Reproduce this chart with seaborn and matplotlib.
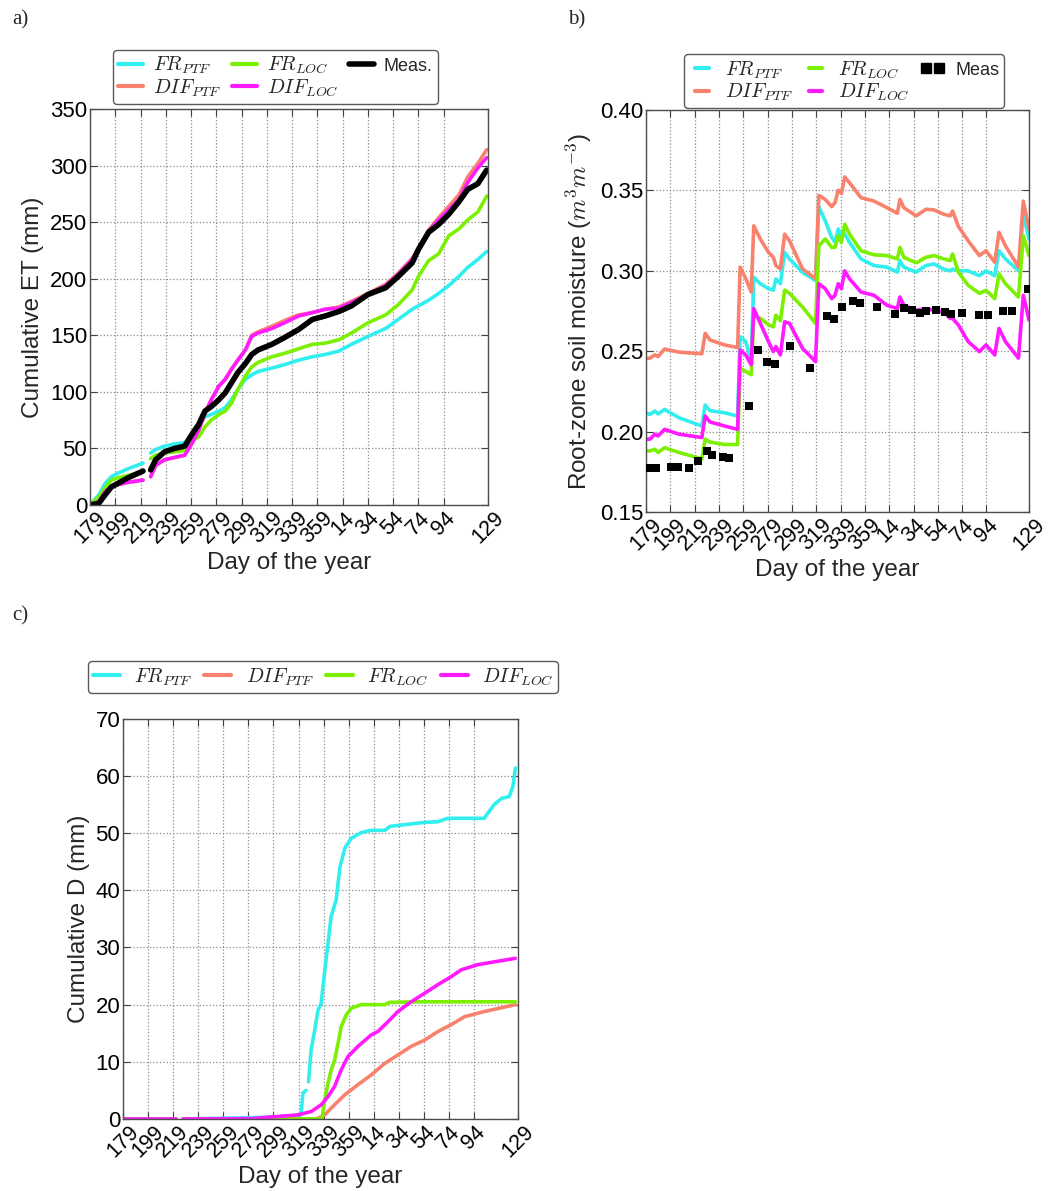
import numpy as np
import pandas as pd
import matplotlib
matplotlib.use('Agg')
import matplotlib.pyplot as plt
import seaborn as sns
from matplotlib.lines import Line2D

sns.set_theme(style='white')
plt.rcParams['font.family'] = ['Liberation Sans', 'DejaVu Sans']
plt.rcParams['mathtext.fontset'] = 'cm'

NAN = np.nan

# ---------------- common x axis ----------------
tick_pos = [179, 199, 219, 239, 259, 279, 299, 319, 339, 359, 379, 399, 419, 439, 459, 494]
tick_lab = ['179', '199', '219', '239', '259', '279', '299', '319', '339', '359',
            '14', '34', '54', '74', '94', '129']

names = ['FR_PTF', 'DIF_PTF', 'FR_LOC', 'DIF_LOC']
labels = [r'$FR_{PTF}$', r'$DIF_{PTF}$', r'$FR_{LOC}$', r'$DIF_{LOC}$']
colors = {'FR_PTF': '#33eeee', 'DIF_PTF': '#f9826e', 'FR_LOC': '#7cf000', 'DIF_LOC': '#ff1aff'}

# ---------------- panel a: cumulative ET ----------------
a_days = [179, 186, 191, 196, 201, 209, 221, 224, 227, 231, 238, 246, 254, 260, 265, 270,
          275, 281, 286, 291, 296, 302, 307, 312, 323, 333, 344, 355, 365, 376, 386,
          399, 413, 423, 434, 439, 447, 455, 463, 471, 478, 486, 493]
a_meas = [0, 1.5, 9, 16, 19, 24, 30, NAN, 31, 40, 47, 50, 52, 63, 71, 83, 87, 93, 99, 108,
          117, 125, 133, 137, 142, 148, 155, 164, 167, 171, 176, 186, 192, 202, 214, 226,
          241, 248, 257, 268, 279, 284, 296]
a_dif_loc = [0, 3, 12, 16, 18, 20, 22, NAN, 25, 35, 40, 42, 44, 55, 66, 81, 93, 105, 111,
             120, 128, 137, 149, 152, 156, 161, 167, 170, 173, 174, 179, 186, 194, 204,
             217, 226, 242, 252, 261, 270, 285, 298, 307]
a_dif_ptf = [0, 3, 12, 16, 18, 20, 22, NAN, 25, 35, 40, 42, 44, 55, 66, 81, 93, 105, 111,
             120, 128, 137, 150, 153, 158, 163, 168, 170, 173, 175, 180, 187, 195, 205,
             218, 227, 243, 254, 264, 274, 290, 302, 314]
a_fr_loc = [0, 7, 15, 22, 24, 26, 29.5, NAN, 41, 44, 46, 47, 48, 57, 60, 69, 75, 80, 83,
            90, 102, 114, 122, 126, 131, 134, 138, 142, 143, 146, 152, 161, 168, 177, 190,
            202, 216, 222, 238, 244, 252, 259, 273]
a_fr_ptf = [0, 9, 19, 25, 28, 32, 37, NAN, 46, 49, 52, 54, 55, 63, 71, 78, 80, 83, 86, 93,
            102, 111, 115, 118, 121, 124, 128, 131, 133, 136, 142, 149, 156, 164, 173, 176,
            181, 187, 194, 202, 210, 217, 224]

# ---------------- panel b: root-zone soil moisture ----------------
b_days = [179, 182.2, 186.2, 188.9, 194.2, 206.2, 224.9, 227.6, 231.6, 243.6, 254.3, 256.4,
          261.0, 265.5, 267.6, 273.0, 279.7, 283.7, 285.8, 289.5, 293.0, 297.0, 307.7, 318.4,
          321.1, 326.4, 331.7, 334.4, 337.1, 339.7, 342.4, 346.4, 355.8, 366.4, 377.1, 385.7,
          387.8, 391.0, 401.2, 409.2, 415.8, 423.9, 429.2, 431.1, 435.9, 443.9, 453.2, 458.6,
          465.8, 469.3, 474.6, 485.3, 489.3, 494]
b_dif_ptf = [0.2453, 0.2457, 0.2477, 0.2467, 0.2514, 0.2494, 0.2484, 0.2611, 0.2570, 0.2539,
             0.2523, 0.3023, 0.2951, 0.2868, 0.3280, 0.3198, 0.3115, 0.3084, 0.3033, 0.3012,
             0.3228, 0.3187, 0.3012, 0.2951, 0.3469, 0.3444, 0.3399, 0.3424, 0.3502, 0.3481,
             0.3584, 0.3547, 0.3455, 0.3434, 0.3393, 0.3358, 0.3444, 0.3393, 0.3342, 0.3383,
             0.3379, 0.3352, 0.3342, 0.3372, 0.3276, 0.3187, 0.3095, 0.3125, 0.3053, 0.3239,
             0.3156, 0.3023, 0.3434, 0.3259]
b_fr_ptf = [0.2117, 0.2107, 0.2128, 0.2110, 0.2138, 0.2086, 0.2035, 0.2165, 0.2130, 0.2117,
            0.2097, 0.2590, 0.2560, 0.2436, 0.2960, 0.2920, 0.2889, 0.2880, 0.2950, 0.2920,
            0.3115, 0.3074, 0.2990, 0.2940, 0.3400, 0.3310, 0.3208, 0.3177, 0.3260, 0.3218,
            0.3230, 0.3177, 0.3074, 0.3033, 0.3023, 0.2992, 0.3064, 0.3023, 0.2992, 0.3033,
            0.3043, 0.3010, 0.3000, 0.3010, 0.3000, 0.3000, 0.2970, 0.3000, 0.2970, 0.3125,
            0.3074, 0.3000, 0.3350, 0.3198]
b_fr_loc = [0.1880, 0.1880, 0.1890, 0.1870, 0.1900, 0.1870, 0.1830, 0.1953, 0.1935, 0.1920,
            0.1920, 0.2395, 0.2374, 0.2354, 0.2724, 0.2704, 0.2665, 0.2652, 0.2724, 0.2690,
            0.2880, 0.2860, 0.2775, 0.2673, 0.3156, 0.3198, 0.3146, 0.3146, 0.3218, 0.3177,
            0.3290, 0.3228, 0.3125, 0.3100, 0.3095, 0.3074, 0.3146, 0.3084, 0.3050, 0.3084,
            0.3095, 0.3074, 0.3064, 0.3105, 0.2992, 0.2910, 0.2860, 0.2879, 0.2827, 0.2981,
            0.2920, 0.2837, 0.3218, 0.3095]
b_dif_loc = [0.1953, 0.1953, 0.1984, 0.1973, 0.2014, 0.1984, 0.1963, 0.2097, 0.2060, 0.2035,
             0.2014, 0.2508, 0.2477, 0.2416, 0.2765, 0.2673, 0.2560, 0.2498, 0.2529, 0.2477,
             0.2683, 0.2673, 0.2518, 0.2436, 0.2920, 0.2889, 0.2827, 0.2848, 0.2920, 0.2889,
             0.3000, 0.2950, 0.2868, 0.2848, 0.2786, 0.2765, 0.2837, 0.2786, 0.2755, 0.2765,
             0.2755, 0.2745, 0.2704, 0.2704, 0.2663, 0.2560, 0.2498, 0.2539, 0.2477, 0.2642,
             0.2560, 0.2457, 0.2848, 0.2694]
b_meas_days = [180.9, 187.5, 199.6, 204.9, 214.2, 221.7, 228.9, 233.5, 242.3, 247.6, 263.6,
               270.9, 278.3, 285.0, 297.6, 313.6, 328.0, 333.6, 340.3, 349.1, 355.2, 369.1,
               383.8, 391.0, 398.0, 404.4, 409.2, 417.2, 425.2, 430.0, 438.5, 453.2, 460.4,
               472.7, 479.9, 493.3]
b_meas = [0.1772, 0.1772, 0.1778, 0.1778, 0.1772, 0.1819, 0.1881, 0.1856, 0.1840, 0.1834,
          0.2158, 0.2508, 0.2436, 0.2420, 0.2533, 0.2395, 0.2718, 0.2698, 0.2772, 0.2813,
          0.2800, 0.2772, 0.2731, 0.2766, 0.2755, 0.2739, 0.2751, 0.2755, 0.2741, 0.2733,
          0.2739, 0.2725, 0.2725, 0.2749, 0.2749, 0.2885]

# ---------------- panel c: cumulative drainage ----------------
c_fr_ptf_days = [179, 221, 224, 227, 300, 321, 322.5, 325, 326, 327, 329, 332, 334.5, 337, 340,
                 342.5, 345, 349, 352, 356, 361, 369, 377, 388, 392, 404, 420, 430, 438, 454,
                 467, 475, 481, 487, 490, 492]
c_fr_ptf = [0, 0, NAN, 0, 0.3, 0.7, 4.5, 5.0, NAN, 6.5, 12, 15.6, 19, 20.2, 26, 30.7, 35.4,
            38.3, 44, 47.4, 49.1, 50.1, 50.5, 50.5, 51.2, 51.5, 51.9, 52, 52.6, 52.6, 52.6,
            55, 56.1, 56.4, 58.2, 61.4]
c_dif_ptf_days = [179, 221, 224, 227, 331.8, 334.5, 339.8, 347.8, 355.8, 366.4, 377.0, 387.7,
                  398.3, 408.9, 419.6, 430.2, 440.8, 451.5, 467.4, 492]
c_dif_ptf = [0, 0, NAN, 0, 0, 0.1, 0.7, 2.5, 4.2, 6.0, 7.7, 9.7, 11.2, 12.7, 13.8, 15.3, 16.5,
             17.9, 18.8, 20.0]
c_fr_loc_days = [179, 221, 224, 227, 337.7, 339.8, 342.5, 345.1, 347.8, 350.5, 353.1, 357.1,
                 361.1, 369.1, 387.7, 391.7, 414.3, 492]
c_fr_loc = [0, 0, NAN, 0, 0, 3.3, 6.2, 8.6, 10.3, 13.2, 16.2, 18.2, 19.4, 20, 20, 20.4,
            20.5, 20.5]
c_dif_loc_days = [179, 221.5, 224, 226.8, 281.3, 294.6, 318.6, 329.2, 337.2, 342.5, 347.8,
                  353.1, 358.4, 366.4, 377.0, 382.3, 390.3, 398.3, 408.9, 419.6, 430.2, 440.8,
                  448.8, 462.1, 475.4, 491.9]
c_dif_loc = [0, 0, NAN, 0, 0.05, 0.3, 0.7, 1.3, 2.5, 3.9, 5.7, 8.6, 10.9, 12.7, 14.7, 15.3,
             17, 18.8, 20.5, 22, 23.5, 24.9, 26.1, 27, 27.5, 28.1]


def draw(ax, x, y, color, lw):
    df = pd.DataFrame({'x': x, 'y': y})
    df['seg'] = df['y'].isna().cumsum()
    df = df.dropna()
    sns.lineplot(data=df, x='x', y='y', units='seg', estimator=None, sort=False,
                 color=color, lw=lw, ax=ax, legend=False)


def style(ax, ylim, yticks, ylab, yfmt=None):
    ax.set_xlim(179, 494)
    ax.set_ylim(*ylim)
    ax.set_xticks(tick_pos)
    ax.set_xticklabels(tick_lab, rotation=45, fontsize=15.5)
    ax.set_yticks(yticks)
    if yfmt:
        ax.set_yticklabels([yfmt % v for v in yticks], fontsize=16)
    else:
        ax.set_yticklabels([str(v) for v in yticks], fontsize=16)
    ax.tick_params(axis='both', which='both', direction='in', length=5, width=0.8,
                   top=True, right=True, bottom=True, left=True, pad=2, colors='0.25',
                   labelcolor='black')
    ax.grid(True, ls=':', color='0.55', lw=0.9)
    for s in ax.spines.values():
        s.set_color('0.3')
        s.set_linewidth(1.0)
    ax.set_xlabel('Day of the year', fontsize=17.5, labelpad=3)
    ax.set_ylabel(ylab, fontsize=17.5, labelpad=4)


fig = plt.figure(figsize=(10.51, 11.91), dpi=100)
axa = fig.add_axes([0.0856, 0.5760, 0.3787, 0.3325])
axb = fig.add_axes([0.6147, 0.5701, 0.3644, 0.3375])
axc = fig.add_axes([0.1170, 0.0605, 0.3758, 0.3359])

LW = 2.6
# panel a
for n, y in zip(names, [a_fr_ptf, a_dif_ptf, a_fr_loc, a_dif_loc]):
    draw(axa, a_days, y, colors[n], LW)
draw(axa, a_days, a_meas, 'black', 4.0)
style(axa, (0, 350), list(range(0, 351, 50)), 'Cumulative ET (mm)')

# panel b
for n, y in zip(names, [b_fr_ptf, b_dif_ptf, b_fr_loc, b_dif_loc]):
    draw(axb, b_days, y, colors[n], LW)
sns.scatterplot(x=b_meas_days, y=b_meas, marker='s', color='black', s=40, edgecolor='black',
                linewidth=0, ax=axb, zorder=5, legend=False)
style(axb, (0.15, 0.40), [0.15, 0.20, 0.25, 0.30, 0.35, 0.40],
      r'Root-zone soil moisture ($m^3m^{-3}$)', '%.2f')

# panel c
for n, x, y in zip(names, [c_fr_ptf_days, c_dif_ptf_days, c_fr_loc_days, c_dif_loc_days],
                   [c_fr_ptf, c_dif_ptf, c_fr_loc, c_dif_loc]):
    draw(axc, x, y, colors[n], LW)
style(axc, (0, 70), list(range(0, 71, 10)), 'Cumulative D (mm)')

# legends
def handles():
    return [Line2D([], [], color=colors[n], lw=3) for n in names]

leg_kw = dict(frameon=True, fancybox=True, edgecolor='0.35', framealpha=1,
              borderaxespad=0, handlelength=1.25, handletextpad=0.5, borderpad=0.25,
              labelspacing=0.05, fontsize=14.5, columnspacing=0.5)

ha = handles() + [Line2D([], [], color='black', lw=4)]
la = labels + ['Meas.']
leg = axa.legend(ha, la, ncol=3, loc='lower left', bbox_to_anchor=(0.058, 1.013), **leg_kw)
leg.get_texts()[4].set_fontsize(13)

hb = handles() + [Line2D([], [], color='black', marker='s', ls='none', markersize=6.5)]
lb = labels + ['Meas']
leg = axb.legend(hb, lb, ncol=3, loc='lower left', numpoints=2,
                 bbox_to_anchor=(0.10, 1.005), **leg_kw)
leg.get_texts()[4].set_fontsize(13)

hc = handles()
leg = axc.legend(hc, labels, ncol=4, loc='lower left',
                 bbox_to_anchor=(-0.089, 1.065), **{**leg_kw, 'columnspacing': 0.6,
                                                    'handlelength': 1.35,
                                                    'handletextpad': 0.7})

# panel letters
for txt, x, y in [('a)', 0.012, 0.983), ('b)', 0.540, 0.983), ('c)', 0.012, 0.483)]:
    fig.text(x, y, txt, fontsize=15, family=['Liberation Serif', 'DejaVu Serif'],
             va='center', ha='left')

fig.savefig('out.png', dpi=100)
